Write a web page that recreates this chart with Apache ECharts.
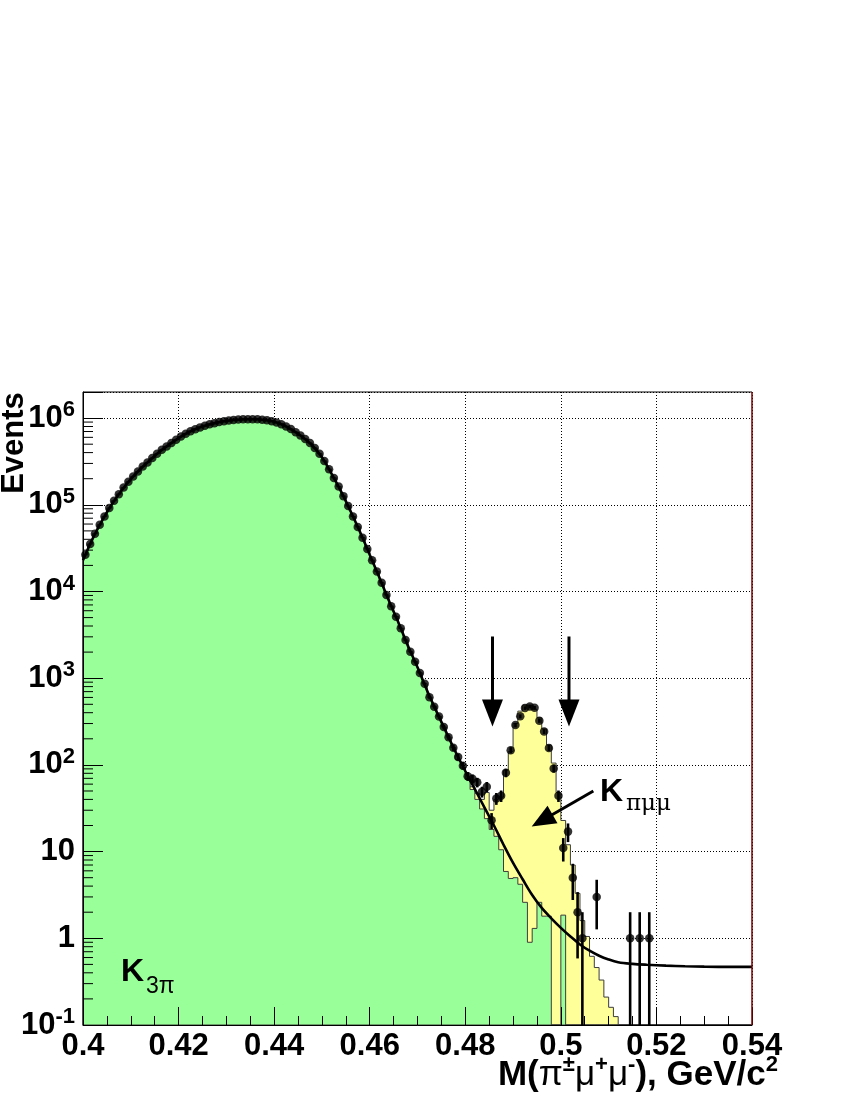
<!DOCTYPE html>
<html><head><meta charset="utf-8">
<script src="https://cdn.jsdelivr.net/npm/echarts@6/dist/echarts.min.js"></script>
<style>html,body{margin:0;padding:0;background:#fff}#c{width:850px;height:1100px}</style>
</head><body><div id="c"></div>
<script>
// ---------------- data ----------------
const binLow = 0.4;          // GeV/c^2, lower edge of first bin
const binWidth = 0.001;      // GeV/c^2
// observed events per bin (140 bins, 0.400 - 0.540)
const dataCounts = [
  26500,35200,46300,58700,73300,91600,111200,132700,158500,184100,
  212300,242100,276700,307600,345900,387300,430500,471000,515200,562300,
  613000,660700,704700,744700,781600,816600,847200,875000,899500,920400,
  937600,950600,961600,968300,972800,972800,968300,959400,944100,922600,
  891300,851100,799800,746400,687100,631000,575400,515200,451900,389000,
  319900,257000,204200,162200,125900,96600,73300,55600,41700,30900,
  22900,17000,12590,9120,6760,5130,3760,2750,2020,1550,
  1150,861,603,468,361,273,209,158,123,98,
  74,69,63,49,56,23,41,44,81,148,
  288,363,452,471,457,324,243,157,91,44,
  11,17,5,2,1,0,0,3,0,0,
  0,0,0,0,1,0,1,0,1,0,
  0,0,0,0,0,0,0,0,0,0,
  0,0,0,0,0,0,0,0,0,0
];
// K3pi simulation (green)
const mcK3pi = [
  26500,35200,46300,58700,73300,91600,111200,132700,158500,184100,
  212300,242100,276700,307600,345900,387300,430500,471000,515200,562300,
  613000,660700,704700,744700,781600,816600,847200,875000,899500,920400,
  937600,950600,961600,968300,972800,972800,968300,959400,944100,922600,
  891300,851100,799800,746400,687100,631000,575400,515200,451900,389000,
  319900,257000,204200,162200,125900,96600,73300,55600,41700,30900,
  22900,17000,12590,9120,6760,5130,3760,2750,2020,1550,
  1150,861,603,468,361,273,209,158,115,92,
  68,52,40,31,24,18,15,10.5,5.9,4.9,
  5.0,4.2,2.6,0.9,1.3,2.6,1.8,1.8,0,0,
  1.85,0,0,0,0,0,0,0,0,0,
  0,0,0,0,0,0,0,0,0,0,
  0,0,0,0,0,0,0,0,0,0,
  0,0,0,0,0,0,0,0,0,0
];
// K -> pi mu mu simulation (yellow, stacked on K3pi)
const mcKpimumu = [
  0,0,0,0,0,0,0,0,0,0, 0,0,0,0,0,0,0,0,0,0,
  0,0,0,0,0,0,0,0,0,0, 0,0,0,0,0,0,0,0,0,0,
  0,0,0,0,0,0,0,0,0,0, 0,0,0,0,0,0,0,0,0,0,
  0,0,0,0,0,0,0,0,0,0, 0,0,0,0,0,0,0,0,0,0,
  2,4,7,9,24,12,25,32,81,138,
  295,413,487,489,436,347,258,168,105,48,
  21,12,7,3.3,1.6,1.05,0.62,0.46,0.33,0.21,
  0.16,0.125,0,0,0,0,0,0,0,0,
  0,0,0,0,0,0,0,0,0,0,
  0,0,0,0,0,0,0,0,0,0
];
// background fit curve samples
const fitX = [0.400,0.402,0.404,0.406,0.408,0.410,0.412,0.414,0.416,0.418,
  0.420,0.422,0.424,0.426,0.428,0.430,0.432,0.434,0.436,0.438,
  0.440,0.442,0.444,0.446,0.448,0.450,0.452,0.454,0.456,0.458,
  0.460,0.462,0.464,0.466,0.468,0.470,0.472,0.474,0.476,0.478,
  0.480,0.482,0.484,0.486,0.488,0.490,0.492,0.494,0.496,0.498,
  0.500,0.502,0.504,0.506,0.508,0.510,0.512,0.515,0.518,0.522,
  0.526,0.530,0.535,0.540];
const fitY = [22900,40460,65610,100900,144500,197700,258800,326600,408300,493200,
  588800,682300,763800,831800,887200,929000,957200,970500,970500,952800,
  907800,826000,716100,602600,483100,353200,229100,142900,84140,48190,
  26610,14620,7850,4395,2360,1334,721,411,239,140,
  85,52.5,32.4,20,12,7.4,4.8,3.16,2.24,1.70,
  1.32,1.05,0.85,0.72,0.63,0.57,0.53,0.507,0.495,0.484,
  0.476,0.471,0.468,0.468];
// signal window arrows [x, yTail, x, yTip] and label arrow
const windowArrows = [[0.48569, 3027, 0.48569, 277], [0.50170, 3027, 0.50170, 277]];
const labelArrow = [[0.5068, 50, 0.4939, 19.5]];
const xTickLabels = ['0.4','0.42','0.44','0.46','0.48','0.5','0.52','0.54'];

// ---------------- chart ----------------
const FONT = 'Liberation Sans';
const Y_MIN = 0.1, Y_MAX = 2e6;
const chart = echarts.init(document.getElementById('c'), null, {renderer: 'canvas'});

const points = [], errs = [];
dataCounts.forEach((n, i) => {
  if (n > 0) {
    const xc = binLow + (i + 0.5) * binWidth;
    points.push([xc, n]);
    errs.push([xc, n - Math.sqrt(n), n + Math.sqrt(n)]);
  }
});
const totalMC = mcK3pi.map((v, i) => v + mcKpimumu[i]);
const yMinor = [];
for (let e = -1; e <= 6; e++) for (let k = 2; k <= 9; k++) { const v = k * Math.pow(10, e); if (v < Y_MAX) yMinor.push([binLow, v]); }

function histRender(values, fill) {
  return function (params, api) {
    const pts = [api.coord([binLow, Y_MIN])];
    for (let i = 0; i < values.length; i++) {
      const v = values[i] > Y_MIN ? values[i] : Y_MIN;
      pts.push(api.coord([binLow + i * binWidth, v]));
      pts.push(api.coord([binLow + (i + 1) * binWidth, v]));
    }
    pts.push(api.coord([binLow + values.length * binWidth, Y_MIN]));
    return {type: 'polygon', shape: {points: pts}, style: {fill: fill, stroke: '#3c3c3c', lineWidth: 1}};
  };
}
function arrowRender(headLen, headHalf, width) {
  return function (params, api) {
    const p1 = api.coord([api.value(0), api.value(1)]);
    const p2 = api.coord([api.value(2), api.value(3)]);
    const dx = p2[0] - p1[0], dy = p2[1] - p1[1];
    const L = Math.sqrt(dx * dx + dy * dy), ux = dx / L, uy = dy / L;
    const bx = p2[0] - ux * headLen, by = p2[1] - uy * headLen;
    return {type: 'group', children: [
      {type: 'line', shape: {x1: p1[0], y1: p1[1], x2: bx + ux * 2, y2: by + uy * 2}, style: {stroke: '#000', lineWidth: width}},
      {type: 'polygon', shape: {points: [[p2[0], p2[1]], [bx - uy * headHalf, by + ux * headHalf], [bx + uy * headHalf, by - ux * headHalf]]}, style: {fill: '#000'}}
    ]};
  };
}

const supRich = {
  b: {fontFamily: FONT, fontWeight: 'bold', fontSize: 31, lineHeight: 38, verticalAlign: 'middle', color: '#000'},
  s: {fontFamily: FONT, fontWeight: 'bold', fontSize: 22, lineHeight: 22, verticalAlign: 'top', color: '#000'}
};

chart.setOption({
  animation: false,
  backgroundColor: '#fff',
  grid: {left: 83, top: 392, width: 669, height: 633, show: true, borderColor: '#000', borderWidth: 1, backgroundColor: 'transparent'},
  xAxis: [
    {type: 'value', min: 0.4, max: 0.54, interval: 0.02, z: 10,
     axisLine: {show: true, onZero: false, lineStyle: {color: '#000', width: 1}},
     axisTick: {show: true, inside: true, length: 18, lineStyle: {color: '#000', width: 1}},
     minorTick: {show: true, splitNumber: 4, length: 9, lineStyle: {color: '#000', width: 1}},
     splitLine: {show: false},
     axisLabel: {show: true, margin: 6, color: '#000', fontFamily: FONT, fontWeight: 'bold', fontSize: 31,
       formatter: v => xTickLabels[Math.round((v - 0.4) / 0.02)] || ''}},
    {type: 'value', min: 0.4, max: 0.54, interval: 0.02, position: 'top', z: 0,
     axisLine: {show: false}, axisTick: {show: false}, axisLabel: {show: false},
     splitLine: {show: true, lineStyle: {color: '#000', width: 1, type: [1, 2]}}}
  ],
  yAxis: [
    {type: 'log', logBase: 10, min: Y_MIN, max: Y_MAX, z: 10,
     axisLine: {show: true, onZero: false, lineStyle: {color: '#000', width: 1}},
     axisTick: {show: true, inside: true, length: 20, lineStyle: {color: '#000', width: 1}},
     splitLine: {show: false},
     axisLabel: {show: true, margin: 8, rich: supRich,
       formatter: function (v) {
         const e = Math.round(Math.log10(v));
         if (Math.abs(v / Math.pow(10, e) - 1) > 1e-6) return '';
         if (e === 0) return '{b|1}';
         if (e === 1) return '{b|10}';
         return '{b|10}{s|' + e + '}';
       }}},
    {type: 'log', logBase: 10, min: Y_MIN, max: Y_MAX, position: 'right', z: 0,
     axisLine: {show: false}, axisTick: {show: false}, axisLabel: {show: false},
     splitLine: {show: true, lineStyle: {color: '#000', width: 1, type: [1, 2]}}}
  ],
  series: [
    {type: 'custom', name: 'Kpimumu+K3pi', z: 2, silent: true, data: [[binLow, 1]], renderItem: histRender(totalMC, '#ffff99')},
    {type: 'custom', name: 'K3pi', z: 3, silent: true, data: [[binLow, 1]], renderItem: histRender(mcK3pi, '#99ff99')},
    {type: 'line', name: 'fit', z: 4, data: fitX.map((x, i) => [x, fitY[i]]), showSymbol: false, smooth: 0.35,
     lineStyle: {color: '#000', width: 2.6}, silent: true},
    {type: 'custom', name: 'errors', z: 5, silent: true, data: errs, encode: {x: 0, y: [1, 2]},
     renderItem: function (params, api) {
       const lo = Math.max(api.value(1), Y_MIN);
       const p1 = api.coord([api.value(0), lo]);
       const p2 = api.coord([api.value(0), api.value(2)]);
       return {type: 'line', shape: {x1: p1[0], y1: p1[1], x2: p2[0], y2: p2[1]}, style: {stroke: '#000', lineWidth: 2.6}};
     }},
    {type: 'scatter', name: 'data', z: 6, data: points, symbol: 'circle', symbolSize: 8.5, itemStyle: {color: '#000'}, silent: true},
    {type: 'custom', name: 'windowArrows', z: 7, silent: true, data: windowArrows, encode: {x: [0, 2], y: [1, 3]},
     renderItem: arrowRender(27, 10.5, 3)},
    {type: 'custom', name: 'labelArrow', z: 7, silent: true, data: labelArrow, encode: {x: [0, 2], y: [1, 3]},
     renderItem: arrowRender(24, 10, 3)},
    {type: 'custom', name: 'yMinorTicks', z: 20, silent: true, data: yMinor, encode: {x: 0, y: 1},
     renderItem: function (params, api) {
       const p = api.coord([api.value(0), api.value(1)]);
       return {type: 'line', shape: {x1: p[0], y1: p[1], x2: p[0] + 10, y2: p[1]}, style: {stroke: '#000', lineWidth: 1}};
     }}
  ],
  graphic: [
    {type: 'line', shape: {x1: 752, y1: 392, x2: 752, y2: 1025}, style: {stroke: '#b00000', lineWidth: 1}, z: 50},
    {type: 'text', x: 14, y: 443, rotation: Math.PI / 2, style: {text: 'Events', font: 'bold 31px "Liberation Sans"', fill: '#000', textAlign: 'center', textVerticalAlign: 'middle'}, z: 50},
    {type: 'text', x: 611.5, y: 792, style: {text: 'K', font: 'bold 32px "Liberation Sans"', fill: '#000', textAlign: 'center', textVerticalAlign: 'middle'}, z: 50},
    {type: 'text', x: 626, y: 804, style: {text: 'πμμ', font: '23px "DejaVu Serif"', fill: '#000', textAlign: 'left', textVerticalAlign: 'middle'}, z: 50},
    {type: 'text', x: 132.5, y: 972, style: {text: 'K', font: 'bold 32px "Liberation Sans"', fill: '#000', textAlign: 'center', textVerticalAlign: 'middle'}, z: 50},
    {type: 'text', x: 146, y: 987, style: {text: '3π', font: '23px "Liberation Sans"', fill: '#000', textAlign: 'left', textVerticalAlign: 'middle'}, z: 50},
    {type: 'text', x: 778, y: 1075, style: {
      text: '{b|M(}{g|π}{s|±}{g|μ}{s|+}{g|μ}{s|-}{b|), GeV/c}{s|2}',
      textAlign: 'right', textVerticalAlign: 'middle',
      rich: {
        b: {fontFamily: FONT, fontWeight: 'bold', fontSize: 35, lineHeight: 42, verticalAlign: 'middle', fill: '#000'},
        g: {fontFamily: FONT, fontSize: 35, lineHeight: 42, verticalAlign: 'middle', fill: '#000'},
        s: {fontFamily: FONT, fontWeight: 'bold', fontSize: 22, lineHeight: 22, verticalAlign: 'top', fill: '#000'}
      }}, z: 50}
  ]
});
</script></body></html>
